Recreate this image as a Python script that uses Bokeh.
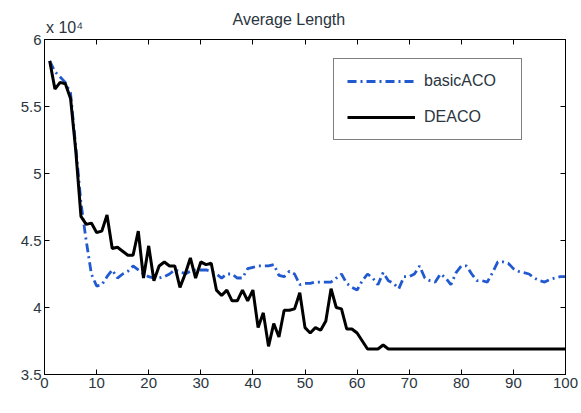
from bokeh.plotting import figure
from bokeh.models import (LinearAxis, FixedTicker, Legend, LegendItem, Title, Range1d)
from bokeh.embed import file_html
from bokeh.resources import INLINE

# ---- data (values in units of 10^4) ----
iterations = list(range(1, 101))
basic_aco = [5.84, 5.76, 5.72, 5.68, 5.60, 5.20, 4.78, 4.50, 4.25, 4.16,
             4.17, 4.23, 4.28, 4.22, 4.25, 4.27, 4.31, 4.28, 4.25, 4.23,
             4.22, 4.22, 4.23, 4.25, 4.28, 4.27, 4.25, 4.27, 4.28, 4.28,
             4.28, 4.27, 4.25, 4.22, 4.25, 4.25, 4.22, 4.22, 4.29, 4.30,
             4.31, 4.31, 4.31, 4.32, 4.24, 4.23, 4.27, 4.25, 4.17, 4.18,
             4.18, 4.19, 4.19, 4.19, 4.19, 4.22, 4.25, 4.18, 4.15, 4.13,
             4.20, 4.25, 4.22, 4.17, 4.26, 4.20, 4.18, 4.14, 4.23, 4.23,
             4.25, 4.31, 4.22, 4.20, 4.19, 4.25, 4.22, 4.17, 4.26, 4.31,
             4.31, 4.25, 4.20, 4.20, 4.19, 4.26, 4.34, 4.34, 4.33, 4.29,
             4.27, 4.26, 4.25, 4.22, 4.20, 4.19, 4.21, 4.22, 4.23, 4.23]
deaco = [5.84, 5.63, 5.68, 5.67, 5.56, 5.17, 4.68, 4.62, 4.63, 4.56,
         4.57, 4.69, 4.44, 4.45, 4.42, 4.39, 4.39, 4.57, 4.22, 4.46,
         4.20, 4.31, 4.34, 4.31, 4.31, 4.15, 4.25, 4.37, 4.22, 4.34,
         4.32, 4.33, 4.13, 4.09, 4.13, 4.05, 4.05, 4.13, 4.05, 4.13,
         3.85, 3.96, 3.71, 3.88, 3.78, 3.98, 3.98, 3.99, 4.11, 3.85,
         3.81, 3.85, 3.83, 3.90, 4.14, 4.00, 3.99, 3.84, 3.84, 3.81,
         3.75, 3.69, 3.69, 3.69, 3.72, 3.69] + [3.69] * 34

x_ticks = [0, 10, 20, 30, 40, 50, 60, 70, 80, 90, 100]
y_ticks = [3.5, 4, 4.5, 5, 5.5, 6]
y_tick_labels = {3.5: "3.5", 4: "4", 4.5: "4.5", 5: "5", 5.5: "5.5", 6: "6"}
title_text = "Average Length"
scale_text = "\u00a0" * 9 + "x 10\u2074"

FONT = "Liberation Sans"
TXT = "#2a3540"

p = figure(width=578, height=410, x_range=Range1d(0, 100), y_range=Range1d(3.5, 6),
           output_backend="svg", toolbar_location=None,
           min_border_left=44, min_border_right=13, min_border_top=39, min_border_bottom=36)

p.xgrid.visible = False
p.ygrid.visible = False
p.outline_line_color = "black"
p.background_fill_color = "white"
p.border_fill_color = "white"

def style_axis(ax, ticks, show_labels=True):
    ax.ticker = FixedTicker(ticks=ticks)
    ax.minor_tick_line_color = None
    ax.major_tick_in = 5
    ax.major_tick_out = 0
    ax.axis_line_color = "black"
    ax.major_tick_line_color = "black"
    ax.major_label_text_font = FONT
    ax.major_label_text_font_size = "15px"
    ax.major_label_text_color = TXT if show_labels else None
    ax.major_label_standoff = 3

style_axis(p.xaxis[0], x_ticks)
style_axis(p.yaxis[0], y_ticks)
p.yaxis[0].major_label_overrides = y_tick_labels

top_ax = LinearAxis()
style_axis(top_ax, x_ticks, show_labels=False)
top_ax.major_label_text_font_size = "0px"
top_ax.major_label_standoff = 0
top_ax.axis_label = scale_text
top_ax.axis_label_align = "start"
top_ax.axis_label_standoff = 4
top_ax.axis_label_text_font = FONT
top_ax.axis_label_text_font_size = "16px"
top_ax.axis_label_text_font_style = "normal"
top_ax.axis_label_text_color = TXT
p.add_layout(top_ax, "above")

right_ax = LinearAxis()
style_axis(right_ax, y_ticks, show_labels=False)
right_ax.major_label_text_font_size = "0px"
right_ax.major_label_standoff = 0
p.add_layout(right_ax, "right")

title = Title(text=title_text, align="left", text_font=FONT, text_font_size="16px",
              text_font_style="normal", text_color=TXT, standoff=-24, offset=188)
p.add_layout(title, "above")

r_basic = p.line(iterations, basic_aco, line_color="#2159d0", line_width=2.8,
                 line_dash="9 4 2 4")
r_deaco = p.line(iterations, deaco, line_color="black", line_width=3)

legend = Legend(items=[LegendItem(label="basicACO", renderers=[r_basic]),
                       LegendItem(label="DEACO", renderers=[r_deaco])],
                location=(289, 234))
legend.border_line_color = "black"
legend.border_line_width = 1
legend.background_fill_color = "white"
legend.background_fill_alpha = 1
legend.label_text_font = FONT
legend.label_text_font_size = "16px"
legend.label_text_color = TXT
legend.padding = 13
legend.margin = 0
legend.spacing = 18
legend.glyph_width = 68
legend.glyph_height = 18
legend.label_height = 18
legend.label_width = 84
legend.label_standoff = 9
p.add_layout(legend, "center")

open("out.html", "w").write(file_html(p, INLINE))
